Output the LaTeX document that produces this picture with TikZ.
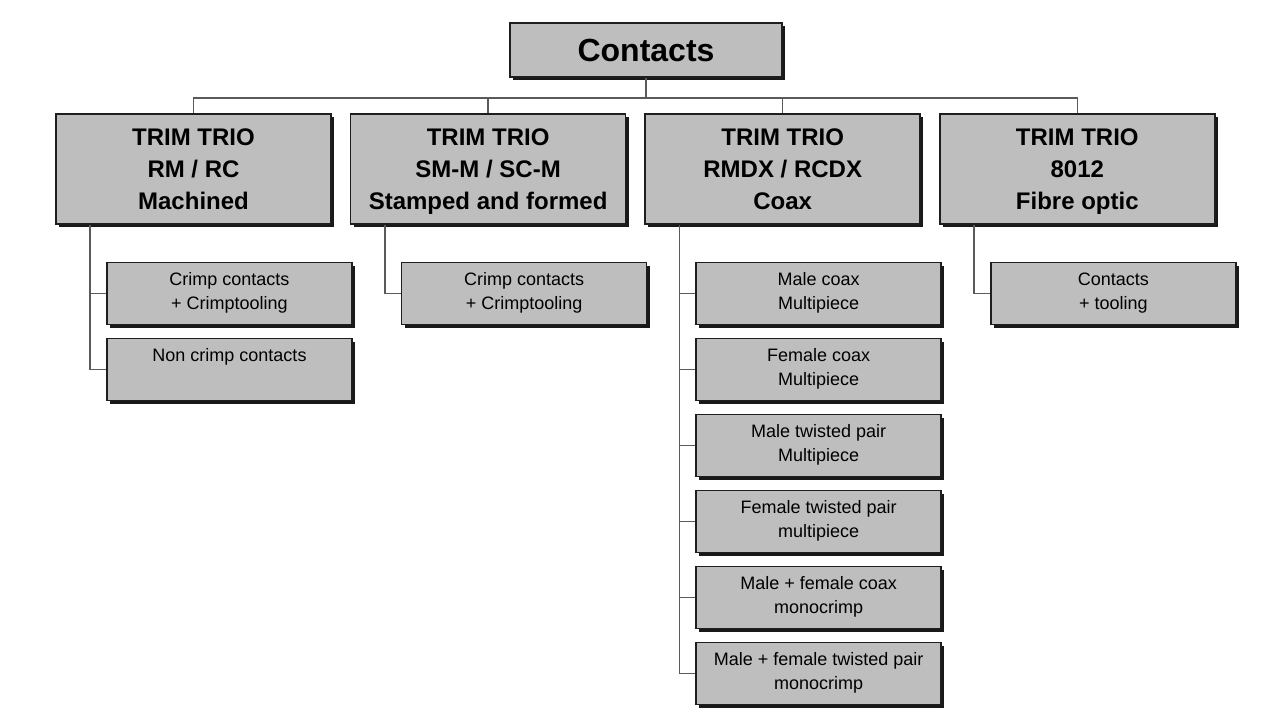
\documentclass[tikz,border=0pt]{standalone}
\usepackage{fontspec}
\setmainfont{Liberation Sans}
\usetikzlibrary{positioning,shadows}
\definecolor{BoxFill}{HTML}{BEBEBE}
\definecolor{Edge}{HTML}{1E1E1E}
\definecolor{Wire}{HTML}{5A5A5A}

\begin{document}
\begin{tikzpicture}[
  x=0.5pt, y=-0.5pt,
  node distance=6.2pt and 9pt,
  card/.style={draw=Edge, thick, fill=BoxFill, inner sep=0pt, align=center, text=black,
    drop shadow={shadow xshift=1.5pt, shadow yshift=-1.5pt, fill=black, opacity=0.9}},
  topbox/.style={card, minimum width=136pt, minimum height=27pt,
    font=\fontsize{16}{19}\selectfont\bfseries},
  family/.style={card, minimum width=137.5pt, minimum height=55pt, text depth=0pt,
    font=\fontsize{12}{16}\selectfont\bfseries},
  leaf/.style={card, minimum width=122.5pt, minimum height=31pt, text depth=2.2pt,
    font=\fontsize{9}{12}\selectfont},
  link/.style={draw=Wire, line width=0.75pt}
]
  \useasboundingbox (0,0) rectangle (1273,717);

  \node[topbox] (root) at (646,50) {Contacts};

  \node[family] (p1) at (193.5,169) {TRIM TRIO\\RM / RC\\Machined};
  \node[family, right=of p1] (p2) {TRIM TRIO\\SM-M / SC-M\\Stamped and formed};
  \node[family, right=of p2] (p3) {TRIM TRIO\\RMDX / RCDX\\Coax};
  \node[family, right=of p3] (p4) {TRIM TRIO\\8012\\Fibre optic};

  % machined
  \node[leaf, anchor=north west] (c1a) at ([xshift=25.5pt,yshift=-18.5pt]p1.south west) {Crimp contacts\\+ Crimptooling};
  \node[leaf, below=of c1a] (c1b) {Non crimp contacts\\\mbox{}};
  % stamped
  \node[leaf, anchor=north west] (c2a) at ([xshift=25.5pt,yshift=-18.5pt]p2.south west) {Crimp contacts\\+ Crimptooling};
  % coax
  \node[leaf, anchor=north west] (c3a) at ([xshift=25.5pt,yshift=-18.5pt]p3.south west) {Male coax\\Multipiece};
  \node[leaf, below=of c3a] (c3b) {Female coax\\Multipiece};
  \node[leaf, below=of c3b] (c3c) {Male twisted pair\\Multipiece};
  \node[leaf, below=of c3c] (c3d) {Female twisted pair\\multipiece};
  \node[leaf, below=of c3d] (c3e) {Male + female coax\\monocrimp};
  \node[leaf, below=of c3e] (c3f) {Male + female twisted pair\\monocrimp};
  % fibre optic
  \node[leaf, anchor=north west] (c4a) at ([xshift=25.5pt,yshift=-18.5pt]p4.south west) {Contacts\\+ tooling};

  % bus
  \coordinate (bus) at ([yshift=-10pt]root.south);
  \draw[link] (root.south) -- (bus);
  \draw[link] (p1.north) |- (bus) -| (p4.north);
  \foreach \n in {p2,p3}
    \draw[link] (\n.north) -- (\n.north |- bus);

  % trunks
  \foreach \n in {1,2,3,4}
    \coordinate (t\n) at ([xshift=17.5pt]p\n.south west);
  \draw[link] (t1) |- (c1b.west);
  \draw[link] (t1 |- c1a.west) -- (c1a.west);
  \draw[link] (t2) |- (c2a.west);
  \draw[link] (t3) |- (c3f.west);
  \foreach \c in {c3a,c3b,c3c,c3d,c3e}
    \draw[link] (t3 |- \c.west) -- (\c.west);
  \draw[link] (t4) |- (c4a.west);
\end{tikzpicture}
\end{document}
